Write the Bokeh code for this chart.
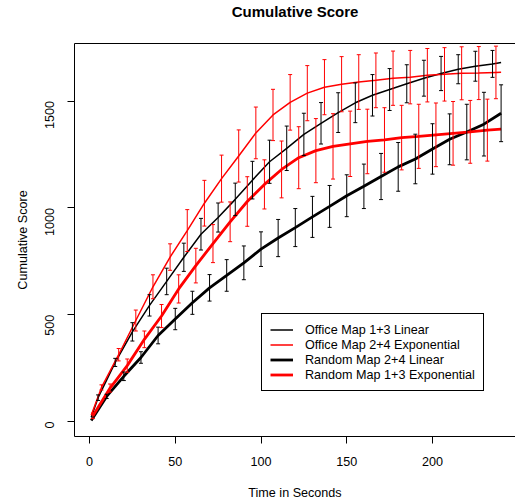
import math
from bokeh.plotting import figure
from bokeh.models import (ColumnDataSource, Whisker, TeeHead, Legend, LegendItem,
                          LinearAxis, FixedTicker, Range1d)
from bokeh.embed import file_html
from bokeh.resources import INLINE

# ---------------- data ----------------
# Office Map 1+3 Linear (black, thin)
off_lin_t = [1, 5, 15, 25, 35, 45, 55, 65, 75, 85, 95, 105, 115, 125, 135, 145,
             155, 165, 175, 185, 195, 205, 215, 225, 235, 240]
off_lin_mean = [20, 112, 277, 420, 544, 656, 769, 877, 955, 1040, 1130, 1216, 1279,
                1344, 1396, 1446, 1492, 1527, 1554, 1581, 1607, 1629, 1649, 1663,
                1674, 1680]
off_lin_bar_t = [5, 15, 25, 35, 45, 55, 65, 75, 85, 95, 105, 115, 125, 135, 145,
                 155, 165, 175, 185, 195, 205, 215, 225, 235]
off_lin_err = [13, 19, 43, 50, 62, 66, 74, 68, 76, 88, 101, 104, 99, 97, 93, 93,
               97, 98, 89, 84, 80, 68, 70, 63]

# Office Map 2+4 Exponential (red, thin)
off_exp_t = [1, 7, 17, 27, 37, 47, 57, 67, 77, 87, 97, 107, 117, 127, 137, 147,
             157, 167, 177, 187, 197, 207, 217, 227, 237, 240]
off_exp_mean = [30, 160, 313, 473, 631, 770, 894, 1022, 1137, 1243, 1351, 1435,
                1494, 1537, 1565, 1579, 1589, 1597, 1607, 1612, 1621, 1625, 1630,
                1631, 1634, 1635]
off_exp_bar_t = [7, 17, 27, 37, 47, 57, 67, 77, 87, 97, 107, 117, 127, 137, 147,
                 157, 167, 177, 187, 197, 207, 217, 227, 237]
off_exp_err = [12, 29, 49, 56, 62, 98, 107, 110, 122, 121, 120, 130, 129, 129, 129,
               128, 128, 127, 125, 125, 125, 124, 124, 123]

# Random Map 2+4 Linear (black, thick)
rnd_lin_t = [1, 10, 20, 30, 40, 50, 60, 70, 80, 90, 100, 110, 120, 130, 140, 150,
             160, 170, 180, 190, 200, 210, 220, 230, 240]
rnd_lin_mean = [5, 118, 212, 300, 403, 480, 556, 626, 684, 743, 807, 859, 908, 958,
                1007, 1057, 1101, 1147, 1192, 1229, 1276, 1321, 1355, 1392, 1443]
rnd_lin_bar_t = [10, 20, 30, 40, 50, 60, 70, 80, 90, 100, 110, 120, 130, 140, 150,
                 160, 170, 180, 190, 200, 210, 220, 230, 240]
rnd_lin_err = [10, 20, 27, 39, 50, 54, 62, 74, 79, 81, 87, 89, 96, 98, 98, 104,
               108, 114, 116, 118, 119, 130, 149, 133]

# Random Map 1+3 Exponential (red, thick)
rnd_exp_t = [2, 12, 22, 32, 42, 52, 62, 72, 82, 92, 102, 112, 122, 132, 142, 152,
             162, 172, 182, 192, 202, 212, 222, 232, 240]
rnd_exp_mean = [27, 157, 262, 385, 494, 621, 730, 833, 935, 1030, 1110, 1180, 1235,
                1268, 1288, 1300, 1311, 1318, 1329, 1335, 1342, 1349, 1356, 1364,
                1369]
rnd_exp_bar_t = [2, 12, 22, 32, 42, 52, 62, 72, 82, 92, 102, 112, 122, 132, 142,
                 152, 162, 172, 182, 192, 202, 212, 222, 232]
rnd_exp_err = [13, 19, 31, 39, 54, 66, 81, 89, 93, 116, 115, 133, 145, 150, 153,
               153, 151, 151, 151, 150, 149, 149, 147, 145]

series_names = ["Office Map 1+3 Linear", "Office Map 2+4 Exponential",
                "Random Map 2+4 Linear", "Random Map 1+3 Exponential"]
x_ticks = [0, 50, 100, 150, 200]
y_ticks = [0, 500, 1000, 1500]

FONT = "Liberation Sans"
FS = "12.6px"

p = figure(width=515, height=502, output_backend="svg", toolbar_location=None,
           x_range=Range1d(-8.75, 248.4), y_range=Range1d(-69.7, 1769.4),
           min_border_left=74, min_border_right=0, min_border_top=42,
           min_border_bottom=64)
p.outline_line_color = None
p.xgrid.visible = False
p.ygrid.visible = False
p.background_fill_color = "white"
p.border_fill_color = "white"

p.title.text = "Cumulative Score"
p.title.align = "center"
p.title.text_font = FONT
p.title.text_font_style = "bold"
p.title.text_font_size = "15px"
p.title.text_color = "black"
p.title.standoff = 0

for ax in (p.xaxis[0], p.yaxis[0]):
    ax.axis_line_color = "black"
    ax.axis_line_width = 1
    ax.major_tick_line_color = "black"
    ax.major_tick_out = 7
    ax.major_tick_in = 0
    ax.minor_tick_line_color = None
    ax.major_label_text_font = FONT
    ax.major_label_text_font_size = FS
    ax.major_label_text_color = "black"
    ax.axis_label_text_font = FONT
    ax.axis_label_text_font_size = FS
    ax.axis_label_text_font_style = "normal"
    ax.axis_label_text_color = "black"

p.xaxis.ticker = FixedTicker(ticks=x_ticks)
p.yaxis.ticker = FixedTicker(ticks=y_ticks)
p.xaxis.axis_label = "Time in Seconds"
p.yaxis.axis_label = "Cumulative Score"
p.yaxis.major_label_orientation = math.pi / 2
p.xaxis.major_label_standoff = 13
p.yaxis.major_label_standoff = 18
p.xaxis.axis_label_standoff = 17
p.yaxis.axis_label_standoff = 8

# top edge of the box (no ticks); a blank axis label keeps the title up
top_axis = LinearAxis(ticker=FixedTicker(ticks=[]), major_tick_out=0, major_tick_in=0,
                      minor_tick_out=0, minor_tick_in=0, major_label_standoff=0,
                      major_tick_line_color=None, minor_tick_line_color=None,
                      major_label_text_font_size="0px", axis_line_color="black",
                      axis_line_width=1, axis_label=" ", axis_label_standoff=7,
                      axis_label_text_font=FONT, axis_label_text_font_size=FS)
p.add_layout(top_axis, "above")

specs = [
    (off_lin_t, off_lin_mean, off_lin_bar_t, off_lin_err, "black", 1.5),
    (off_exp_t, off_exp_mean, off_exp_bar_t, off_exp_err, "red", 1.5),
    (rnd_lin_t, rnd_lin_mean, rnd_lin_bar_t, rnd_lin_err, "black", 2.8),
    (rnd_exp_t, rnd_exp_mean, rnd_exp_bar_t, rnd_exp_err, "red", 2.8),
]

renderers = []
for t, mean, bt, err, color, lw in specs:
    r = p.line(t, mean, line_color=color, line_width=lw)
    renderers.append(r)
    lookup = dict(zip(t, mean))
    centers = [lookup[b] for b in bt]
    src = ColumnDataSource(dict(
        t=bt,
        lo=[c - e for c, e in zip(centers, err)],
        hi=[c + e for c, e in zip(centers, err)],
    ))
    w = Whisker(source=src, base="t", lower="lo", upper="hi",
                line_color=color, line_width=1, level="glyph",
                upper_head=TeeHead(size=4, line_color=color, line_width=1),
                lower_head=TeeHead(size=4, line_color=color, line_width=1))
    p.add_layout(w)

legend = Legend(items=[LegendItem(label=n, renderers=[r])
                       for n, r in zip(series_names, renderers)],
                location=(187, 45))
legend.border_line_color = "black"
legend.border_line_width = 1
legend.border_line_alpha = 1
legend.background_fill_color = "white"
legend.background_fill_alpha = 1
legend.label_text_font = FONT
legend.label_text_font_size = FS
legend.label_text_color = "black"
legend.glyph_width = 23
legend.glyph_height = 15
legend.label_height = 15
legend.spacing = 0
legend.padding = 8
legend.margin = 0
legend.label_standoff = 12
p.add_layout(legend, "center")

open("out.html", "w").write(file_html(p, INLINE))
